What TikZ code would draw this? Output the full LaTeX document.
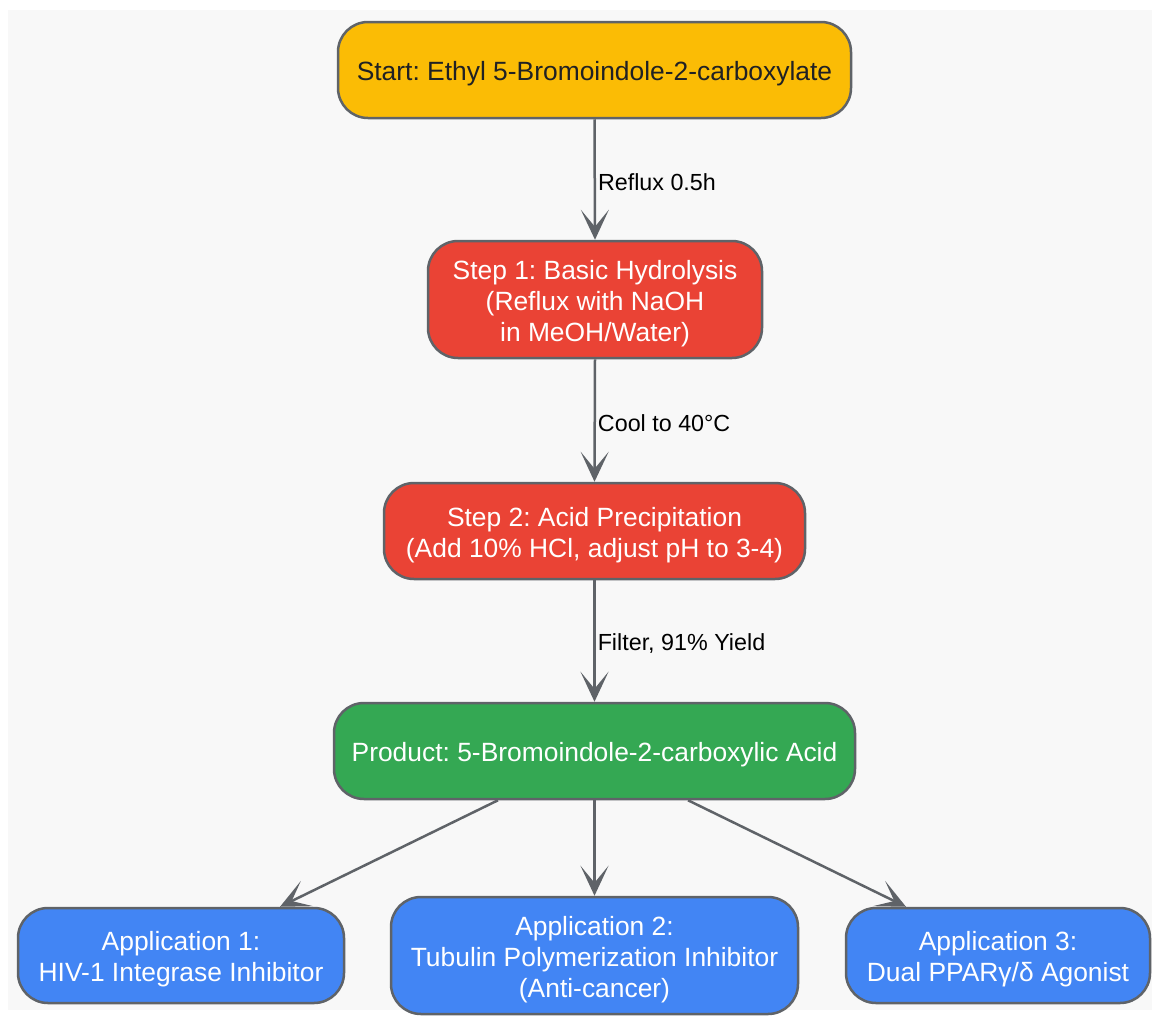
\documentclass[tikz,border=0pt]{standalone}
\usepackage{fontspec}
\setmainfont{Liberation Sans}
\usetikzlibrary{arrows.meta}
\definecolor{bg}{HTML}{F8F8F8}
\definecolor{edge}{HTML}{5F6368}
\definecolor{cyellow}{HTML}{FBBC05}
\definecolor{cred}{HTML}{EA4335}
\definecolor{cgreen}{HTML}{34A853}
\definecolor{cblue}{HTML}{4285F4}
\definecolor{dtext}{HTML}{202124}
\frenchspacing
\begin{document}
\begin{tikzpicture}[x=1pt,y=-1pt,
  box/.style={draw=edge, line width=2.5pt, rounded corners=30pt, inner sep=0pt,
    align=center, font=\fontsize{26.4}{31}\selectfont, text=white},
  txt/.style={inner sep=0pt, align=center, font=\fontsize{26.4}{31}\selectfont, text=white},
  conn/.style={draw=edge, line width=2.5pt, -{Stealth[length=30pt,width=28pt,inset=17pt]}},
  lbl/.style={font=\fontsize{23.3}{27}\selectfont, text=black, anchor=west, inner sep=0pt}
]
\useasboundingbox (0,0) rectangle (1152,1018);
\fill[white] (0,0) rectangle (1152,1018);
\fill[bg] (8,10) rectangle (1152,1010);

\node[box, fill=cyellow, minimum width=513pt, minimum height=96pt] (start) at (594.5,70) {};
\node[txt, text=dtext] (startt) at ([yshift=-4pt]start.center) {Start: Ethyl 5-Bromoindole-2-carboxylate};
\node[box, fill=cred, minimum width=334pt, minimum height=117pt] (s1) at (595,299.5) {};
\node[txt] (s1t) at ([yshift=-4pt]s1.center) {Step 1: Basic Hydrolysis\\(Reflux with NaOH\\in MeOH/Water)};
\node[box, fill=cred, minimum width=421pt, minimum height=96pt] (s2) at (594.5,531) {};
\node[txt] (s2t) at ([yshift=-4pt]s2.center) {Step 2: Acid Precipitation\\(Add 10\% HCl, adjust pH to 3-4)};
\node[box, fill=cgreen, minimum width=521pt, minimum height=96pt] (prod) at (594.5,751) {};
\node[txt] (prodt) at ([yshift=-4pt]prod.center) {Product: 5-Bromoindole-2-carboxylic Acid};
\node[box, fill=cblue, minimum width=326pt, minimum height=95pt] (a1) at (181,955.5) {};
\node[txt] (a1t) at ([yshift=-4pt]a1.center) {Application 1:\\HIV-1 Integrase Inhibitor};
\node[box, fill=cblue, minimum width=407pt, minimum height=117pt] (a2) at (594.5,955.5) {};
\node[txt] (a2t) at ([yshift=-4pt]a2.center) {Application 2:\\Tubulin Polymerization Inhibitor\\(Anti-cancer)};
\node[box, fill=cblue, minimum width=304pt, minimum height=95pt] (a3) at (998,955.5) {};
\node[txt] (a3t) at ([yshift=-4pt]a3.center) {Application 3:\\Dual PPARγ/δ Agonist};

\draw[conn] (start.south) -- node[lbl, pos=0.52, xshift=2pt] {Reflux 0.5h} (s1.north);
\draw[conn] (s1.south) -- node[lbl, pos=0.52, xshift=2pt] {Cool to 40°C} (s2.north);
\draw[conn] (s2.south) -- node[lbl, pos=0.52, xshift=2pt] {Filter, 91\% Yield} (prod.north);
\draw[conn] ([xshift=-96.5pt]prod.south) -- ([xshift=99pt]a1.north);
\draw[conn] (prod.south) -- (a2.north);
\draw[conn] ([xshift=93.5pt]prod.south) -- ([xshift=-92pt]a3.north);
\end{tikzpicture}
\end{document}
